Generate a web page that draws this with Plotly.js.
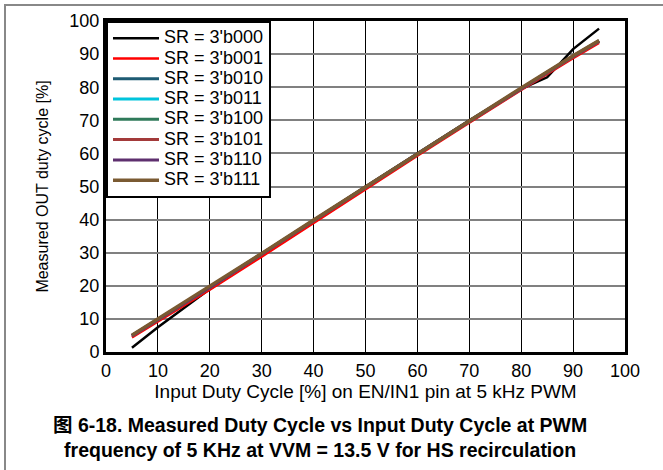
<!DOCTYPE html>
<html>
<head>
<meta charset="utf-8">
<script src="https://cdn.plot.ly/plotly-3.0.1.min.js"></script>
<style>
html,body{margin:0;padding:0;background:#fff;}
#wrap{position:relative;width:663px;height:470px;overflow:hidden;}
#frame{position:absolute;left:4px;top:4px;width:670px;height:480px;border-left:2px solid #888;border-top:2px solid #888;}
#chart{position:absolute;left:0;top:0;width:663px;height:470px;}
</style>
</head>
<body>
<div id="wrap"><div id="frame"></div><div id="chart"></div></div>
<script>
const seriesNames = ["SR = 3'b000","SR = 3'b001","SR = 3'b010","SR = 3'b011","SR = 3'b100","SR = 3'b101","SR = 3'b110","SR = 3'b111"];
const seriesColors = ["#000000","#ff0000","#1e5b73","#00c4dc","#2f7a5a","#a33a3a","#5e2f6e","#7a5a32"];
const xBlack = [5, 10, 20, 30, 40, 50, 60, 70, 80, 85, 90, 95];
const yBlack = [1.3, 7.5, 19, 29.5, 39.8, 50, 60, 70, 79.5, 83, 91.5, 97.7];
const xOthers = [5, 10, 20, 30, 40, 50, 60, 70, 80, 90, 95];
const ySR001 = [4.4, 9.2, 18.8, 28.8, 39.0, 49.2, 59.3, 69.3, 79.2, 88.8, 93.4];
const ySR010 = [4.9, 9.8, 19.5, 29.6, 39.7, 49.8, 59.8, 69.7, 79.6, 89.3, 93.9];
const ySR011 = [4.9, 9.8, 19.5, 29.6, 39.7, 49.8, 59.8, 69.7, 79.6, 89.3, 93.9];
const ySR100 = [5.0, 9.9, 19.6, 29.7, 39.8, 49.8, 59.8, 69.8, 79.7, 89.4, 94.0];
const ySR101 = [4.8, 9.7, 19.4, 29.5, 39.6, 49.7, 59.7, 69.6, 79.5, 89.2, 93.8];
const ySR110 = [5.0, 9.9, 19.6, 29.7, 39.8, 49.9, 59.9, 69.8, 79.7, 89.4, 94.0];
const ySR111 = [5.1, 10.0, 19.7, 29.8, 39.9, 49.9, 59.9, 69.9, 79.8, 89.5, 94.1];
const xTicks = [0,10,20,30,40,50,60,70,80,90,100];
const yTicks = [0,10,20,30,40,50,60,70,80,90,100];

const xs = [xBlack, xOthers, xOthers, xOthers, xOthers, xOthers, xOthers, xOthers];
const ys = [yBlack, ySR001, ySR010, ySR011, ySR100, ySR101, ySR110, ySR111];
const widths = [2.5, 2.5, 3, 3, 3, 3, 3, 3.5];
const traces = seriesNames.map((n,i)=>({
  type:'scatter', mode:'lines', name:'<span style="font-size:18px">'+n+'</span>', x:xs[i], y:ys[i],
  line:{color:seriesColors[i], width:widths[i]}
}));

const fam = '"Liberation Sans", Arial, sans-serif';
const layout = {
  width:663, height:470,
  margin:{l:106, r:38, t:21, b:118},
  paper_bgcolor:'rgba(0,0,0,0)', plot_bgcolor:'#fff',
  font:{family:fam, size:16, color:'#000'},
  showlegend:true,
  legend:{x:0, y:1, xanchor:'left', yanchor:'top', bgcolor:'#fff', bordercolor:'#000', borderwidth:2,
          font:{family:fam, size:13.3, color:'#000'}, tracegroupgap:0, itemwidth:46},
  xaxis:{range:[0,100], tickvals:xTicks, ticktext:xTicks.map(String), showgrid:true, gridcolor:'#000', gridwidth:1,
         showline:true, mirror:true, linecolor:'#000', linewidth:3, ticks:'', zeroline:false,
         tickfont:{family:fam, size:18, color:'#000'},
         title:{text:'Input Duty Cycle [%] on EN/IN1 pin at 5 kHz PWM', font:{family:fam, size:19, color:'#000'}, standoff:2}},
  yaxis:{range:[0,100], tickvals:yTicks, ticktext:yTicks.map(String), showgrid:true, gridcolor:'#808080', gridwidth:2,
         showline:true, mirror:true, linecolor:'#000', linewidth:3, ticks:'', zeroline:false,
         tickfont:{family:fam, size:18, color:'#000'},
         title:{text:'Measured OUT duty cycle [%]', font:{family:fam, size:16, color:'#000'}, standoff:17}},
  annotations:[{
    xref:'paper', yref:'paper', x:0.412, y:-0.181, xanchor:'center', yanchor:'top', showarrow:false,
    align:'center',
    text:'<b>图 6-18. Measured Duty Cycle vs Input Duty Cycle at PWM<br>frequency of 5 KHz at VVM = 13.5 V for HS recirculation</b>',
    font:{family:'"Liberation Sans", Arial, "Noto Sans CJK SC", sans-serif', size:19.5, color:'#000'}
  }]
};
Plotly.newPlot('chart', traces, layout, {displayModeBar:false, staticPlot:true});
</script>
</body>
</html>
